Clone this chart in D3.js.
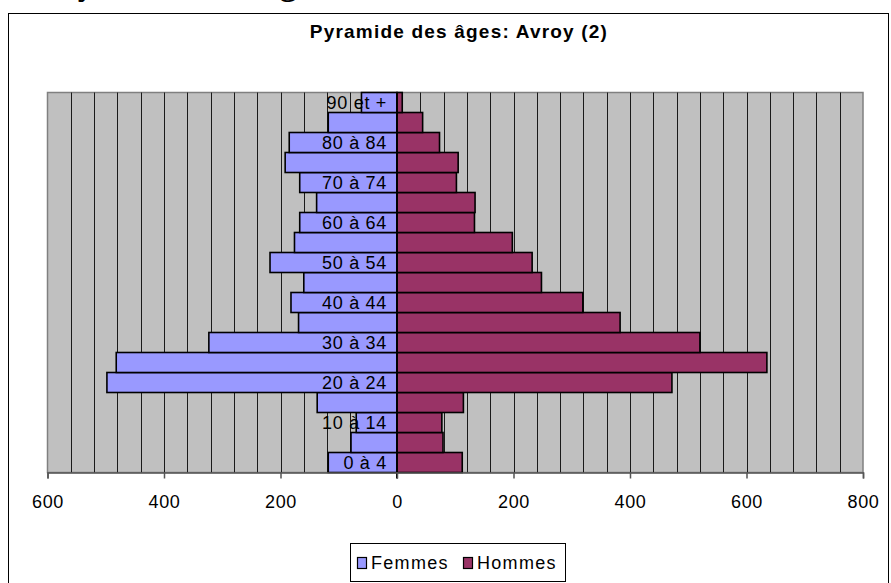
<!DOCTYPE html>
<html>
<head>
	<meta charset="utf-8">
	<title>Pyramide des âges</title>
	<script src="https://d3js.org/d3.v7.min.js"></script>
	<style>
		body { margin: 0; background: white; }
		text { font-family: Arial, "Liberation Sans", sans-serif; }
	</style>
</head>
<body>
	<script>
		var width = 891, height = 583;

		// tranches d'âge, du bas vers le haut
		var categories = ["0 à 4", "5 à 9", "10 à 14", "15 à 19", "20 à 24", "25 à 29", "30 à 34", "35 à 39", "40 à 44", "45 à 49",
			"50 à 54", "55 à 59", "60 à 64", "65 à 69", "70 à 74", "75 à 79", "80 à 84", "85 à 89", "90 et +"];
		var femmes = [118, 79, 70, 137, 498, 482, 323, 169, 182, 160, 218, 176, 167, 138, 167, 192, 185, 118, 61];
		var hommes = [112, 79, 77, 114, 472, 635, 520, 383, 319, 248, 232, 198, 133, 134, 102, 105, 73, 44, 9];
		var tickValues = [-600, -400, -200, 0, 200, 400, 600, 800];
		var seriesNames = ["Femmes", "Hommes"];
		var colors = ["#9999ff", "#993366"];

		// plot area (window.top is reserved, so no "top" here)
		var pLeft = 47.5, pRight = 863, pTop = 92.5, pBottom = 472.5;

		var svg = d3.select("body").append("svg").attr("width", width).attr("height", height);

		// cut-off heading above the chart frame
		svg.append("text").attr("x", 57).attr("y", -5)
			.style("font-family", "'Liberation Serif', 'Times New Roman', serif")
			.style("font-weight", "bold").style("font-size", "34px")
			.text("Pyramide des âges");

		svg.append("rect").attr("x", 8.5).attr("y", 13.5).attr("width", 880).attr("height", 600)
			.attr("fill", "white").attr("stroke", "black");

		svg.append("text").attr("x", 459).attr("y", 38).attr("text-anchor", "middle")
			.style("font-weight", "bold").style("font-size", "19px").style("letter-spacing", "1.2px")
			.text("Pyramide des âges: Avroy (2)");

		var x = d3.scaleLinear().domain([-600, 800]).range([pLeft, pRight]);
		var y = d3.scaleBand().domain(categories.slice().reverse()).range([pTop, pBottom]).padding(0);

		svg.append("rect").attr("x", pLeft).attr("y", pTop).attr("width", pRight - pLeft).attr("height", pBottom - pTop)
			.attr("fill", "#c0c0c0").attr("stroke", "#808080").attr("stroke-width", 1.5);

		// vertical gridlines every 40
		svg.append("g").selectAll("line")
			.data(d3.range(-560, 800, 40))
			.enter().append("line")
			.attr("x1", function(d){ return Math.round(x(d)) + 0.5; })
			.attr("x2", function(d){ return Math.round(x(d)) + 0.5; })
			.attr("y1", pTop).attr("y2", pBottom)
			.attr("stroke", "#1a1a1a").attr("stroke-width", 1);

		// bars
		var bars = svg.append("g");
		bars.selectAll("rect.f")
			.data(categories)
			.enter().append("rect").attr("class", "f")
			.attr("x", function(d, i){ return x(-femmes[i]); })
			.attr("y", function(d){ return y(d); })
			.attr("width", function(d, i){ return x(0) - x(-femmes[i]); })
			.attr("height", y.bandwidth())
			.attr("fill", colors[0]).attr("stroke", "black").attr("stroke-width", 1.6);
		bars.selectAll("rect.h")
			.data(categories)
			.enter().append("rect").attr("class", "h")
			.attr("x", x(0))
			.attr("y", function(d){ return y(d); })
			.attr("width", function(d, i){ return x(hommes[i]) - x(0); })
			.attr("height", y.bandwidth())
			.attr("fill", colors[1]).attr("stroke", "black").attr("stroke-width", 1.6);

		// zero axis
		svg.append("line").attr("x1", x(0)).attr("x2", x(0)).attr("y1", pTop).attr("y2", pBottom + 6)
			.attr("stroke", "black").attr("stroke-width", 2);

		// category labels (one out of two)
		svg.append("g").selectAll("text")
			.data(categories.filter(function(d, i){ return i % 2 === 0; }))
			.enter().append("text")
			.attr("x", x(0) - 10)
			.attr("y", function(d){ return y(d) + y.bandwidth() / 2; })
			.attr("dy", "0.36em")
			.attr("text-anchor", "end")
			.style("font-size", "18px").style("letter-spacing", "0.7px")
			.text(function(d){ return d; });

		// x axis
		var xAxis = d3.axisBottom(x).tickValues(tickValues).tickSize(6).tickPadding(17)
			.tickFormat(function(d){ return Math.abs(d); });
		var ax = svg.append("g").attr("transform", "translate(0," + pBottom + ")").call(xAxis);
		ax.select(".domain").attr("stroke", "#555").attr("stroke-width", 1.5);
		ax.selectAll(".tick line").attr("stroke", "#555").attr("stroke-width", 1.5);
		ax.selectAll(".tick text").attr("fill", "black")
			.style("font-family", "Arial, 'Liberation Sans', sans-serif")
			.style("font-size", "18px").style("letter-spacing", "0.6px");

		// legend
		var lg = svg.append("g");
		lg.append("rect").attr("x", 350.5).attr("y", 543.5).attr("width", 215).attr("height", 38)
			.attr("fill", "white").attr("stroke", "black");
		var legendX = [357, 463];
		seriesNames.forEach(function(name, i){
			lg.append("rect").attr("x", legendX[i] + 0.5).attr("y", 557.5).attr("width", 9).attr("height", 11)
				.attr("fill", colors[i]).attr("stroke", "black").attr("stroke-width", 1.2);
			lg.append("text").attr("x", legendX[i] + 14).attr("y", 563).attr("dy", "0.36em")
				.style("font-size", "18px").style("letter-spacing", "1.3px")
				.text(name);
		});
	</script>
</body>
</html>
